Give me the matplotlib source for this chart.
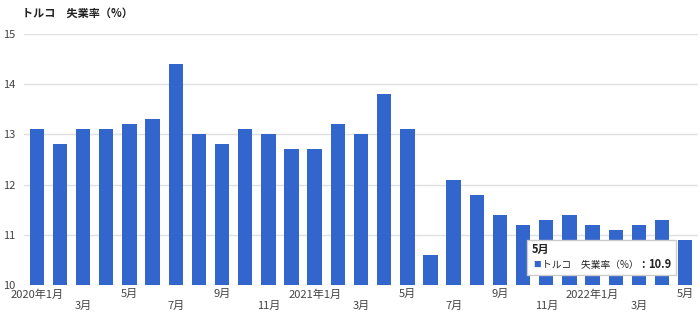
import matplotlib.pyplot as plt
from matplotlib.patches import Rectangle

plt.rcParams['font.family'] = ['Noto Sans CJK JP', 'DejaVu Sans']

# 月ごとのラベル (2020年1月 ~ 2022年5月)
months = ["2020年1月", "2月", "3月", "4月", "5月", "6月", "7月", "8月", "9月", "10月", "11月", "12月",
          "2021年1月", "2月", "3月", "4月", "5月", "6月", "7月", "8月", "9月", "10月", "11月", "12月",
          "2022年1月", "2月", "3月", "4月", "5月"]
# トルコ 失業率 (%)
rates = [13.1, 12.8, 13.1, 13.1, 13.2, 13.3, 14.4, 13.0, 12.8, 13.1, 13.0, 12.7,
         12.7, 13.2, 13.0, 13.8, 13.1, 10.6, 12.1, 11.8, 11.4, 11.2, 11.3, 11.4,
         11.2, 11.1, 11.2, 11.3, 10.9]
title = "トルコ　失業率（%）"

W, H = 700, 317
fig = plt.figure(figsize=(W / 100, H / 100), dpi=100)
ax = fig.add_axes([24 / W, 32 / H, 674 / W, 251 / H])

x = list(range(len(rates)))
ax.bar(x, rates, width=0.62, color="#3366CC", zorder=2)

ax.set_ylim(10, 15)
ax.set_xlim(-0.55, len(rates) - 0.45)
ax.set_yticks([10, 11, 12, 13, 14, 15])
ax.grid(axis="y", color="#e0e0e0", linewidth=1, zorder=0)
for s in ax.spines.values():
    s.set_visible(False)
ax.tick_params(axis="both", length=0, labelsize=8, labelcolor="#444444")
ax.tick_params(axis="y", pad=6)
ax.tick_params(axis="x", pad=3)

# 2か月ごとにラベル、交互に2段で表示
ticks = x[::2]
labels = []
for i in ticks:
    if (i // 2) % 2 == 0:
        labels.append(months[i])
    else:
        labels.append("\n" + months[i])
ax.set_xticks(ticks)
ax.set_xticklabels(labels, linespacing=1.25)

fig.text(22 / W, 1 - 13 / H, title, fontsize=8, fontweight="bold", color="#222222", va="center")

# ツールチップ
box = Rectangle((527 / W, 1 - 275 / H), 149 / W, 35 / H, transform=fig.transFigure,
                facecolor="white", edgecolor="#cccccc", linewidth=1, zorder=5)
fig.patches.append(box)
ty = 1 - 265 / H
fig.text(532 / W, 1 - 249 / H, "5月", fontsize=8, fontweight="bold", color="#222222", va="center", zorder=6)
fig.text(533 / W, ty, "■", fontsize=5.5, color="#3366CC", va="center", zorder=6)
fig.text(542 / W, ty, "トルコ　失業率（%）", fontsize=7, color="#222222", va="center", zorder=6)
fig.text(643 / W, ty, ":", fontsize=8, fontweight="bold", color="#222222", va="center", ha="center", zorder=6)
fig.text(671 / W, ty, "10.9", fontsize=8, fontweight="bold", color="#222222",
         va="center", ha="right", zorder=6)

fig.savefig("out.png", dpi=100)
